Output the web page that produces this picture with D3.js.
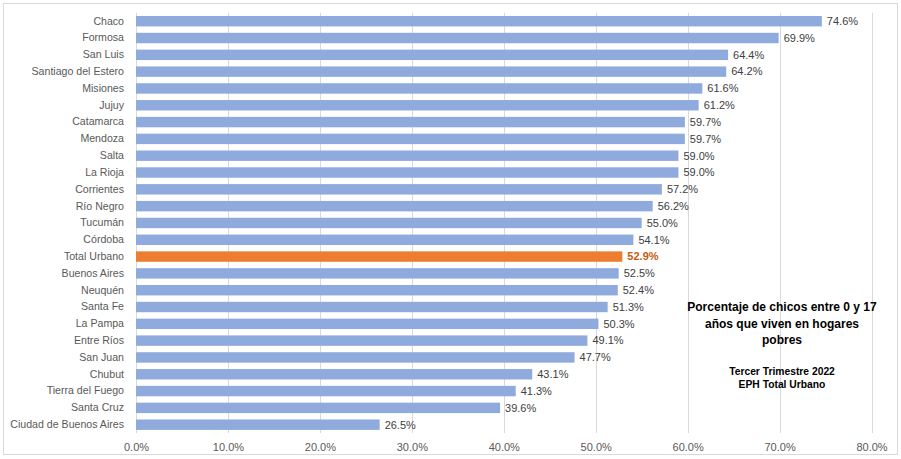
<!DOCTYPE html>
<html>
<head>
<meta charset="utf-8">
<script src="https://cdn.jsdelivr.net/npm/d3@7"></script>
<style>
  body { margin: 0; background: #fff; }
  text { font-family: "Liberation Sans", "DejaVu Sans", sans-serif; }
</style>
</head>
<body>
<div id="chart"></div>
<script>
// ======= data
var provincias = ["Chaco", "Formosa", "San Luis", "Santiago del Estero", "Misiones", "Jujuy",
  "Catamarca", "Mendoza", "Salta", "La Rioja", "Corrientes", "Río Negro", "Tucumán", "Córdoba",
  "Total Urbano", "Buenos Aires", "Neuquén", "Santa Fe", "La Pampa", "Entre Ríos", "San Juan",
  "Chubut", "Tierra del Fuego", "Santa Cruz", "Ciudad de Buenos Aires"];
var valores = [74.6, 69.9, 64.4, 64.2, 61.6, 61.2, 59.7, 59.7, 59.0, 59.0, 57.2, 56.2, 55.0, 54.1,
  52.9, 52.5, 52.4, 51.3, 50.3, 49.1, 47.7, 43.1, 41.3, 39.6, 26.5];
var ticks = [0, 10, 20, 30, 40, 50, 60, 70, 80];
var titulo = ["Porcentaje de chicos entre 0 y 17", "años que viven en hogares", "pobres"];
var subtitulo = ["Tercer Trimestre 2022", "EPH Total Urbano"];
var destacado = "Total Urbano";

var data = provincias.map(function(p, i) { return { name: p, value: valores[i] }; });

var W = 901, H = 459;
var svg = d3.select("#chart").append("svg")
  .attr("width", W)
  .attr("height", H);

// ======= chart border
svg.append("rect")
  .attr("x", 3.5).attr("y", 3.5)
  .attr("width", W - 7).attr("height", H - 8)
  .attr("fill", "#fff")
  .attr("stroke", "#d9d9d9");

var x = d3.scaleLinear().domain([0, 80]).range([136, 871.5]);
var y = d3.scaleBand().domain(provincias).range([12.8, 433.1]).paddingInner(0.38).paddingOuter(0.19);

// ======= gridlines
svg.append("g").selectAll("line")
  .data(ticks)
  .enter()
  .append("line")
  .attr("x1", function(d) { return Math.round(x(d)) + 0.5; })
  .attr("x2", function(d) { return Math.round(x(d)) + 0.5; })
  .attr("y1", 12.8)
  .attr("y2", 433)
  .attr("stroke", "#d9d9d9")
  .attr("stroke-width", 1);

// ======= x axis labels
var xAxis = d3.axisBottom(x)
  .tickValues(ticks)
  .tickSize(0)
  .tickPadding(0)
  .tickFormat(function(d) { return d.toFixed(1) + "%"; });

svg.append("g")
  .attr("transform", "translate(0,443)")
  .call(xAxis)
  .call(function(g) { g.select(".domain").remove(); })
  .selectAll("text")
  .attr("fill", "#595959")
  .attr("font-size", "11px")
  .attr("font-family", "Liberation Sans, sans-serif");

// ======= y axis labels
var yAxis = d3.axisLeft(y).tickSize(0).tickPadding(0);
svg.append("g")
  .attr("transform", "translate(124,0)")
  .call(yAxis)
  .call(function(g) { g.select(".domain").remove(); })
  .selectAll("text")
  .attr("fill", "#595959")
  .attr("font-size", "10.6px")
  .attr("font-family", "Liberation Sans, sans-serif");

// ======= bars
svg.append("g").selectAll("rect")
  .data(data)
  .enter()
  .append("rect")
  .attr("x", x(0))
  .attr("y", function(d) { return y(d.name); })
  .attr("width", function(d) { return x(d.value) - x(0); })
  .attr("height", y.bandwidth())
  .attr("fill", function(d) { return d.name === destacado ? "#ed7d31" : "#8faadc"; });

// ======= value labels
svg.append("g").selectAll("text")
  .data(data)
  .enter()
  .append("text")
  .text(function(d) { return d.value.toFixed(1) + "%"; })
  .attr("x", function(d) { return x(d.value) + 5; })
  .attr("y", function(d) { return y(d.name) + y.bandwidth() / 2; })
  .attr("dy", "0.35em")
  .attr("fill", function(d) { return d.name === destacado ? "#c55a11" : "#404040"; })
  .attr("font-weight", function(d) { return d.name === destacado ? "bold" : "normal"; })
  .attr("font-size", "11px");

// ======= title box
svg.append("g").selectAll("text")
  .data(titulo)
  .enter()
  .append("text")
  .text(function(d) { return d; })
  .attr("x", 782)
  .attr("y", function(d, j) { return 311 + j * 16.5; })
  .attr("text-anchor", "middle")
  .attr("font-weight", "bold")
  .attr("font-size", "12px")
  .attr("fill", "#000");

svg.append("g").selectAll("text")
  .data(subtitulo)
  .enter()
  .append("text")
  .text(function(d) { return d; })
  .attr("x", 782)
  .attr("y", function(d, j) { return 374.5 + j * 13.5; })
  .attr("text-anchor", "middle")
  .attr("font-weight", "bold")
  .attr("font-size", "10.3px")
  .attr("fill", "#000");
</script>
</body>
</html>
